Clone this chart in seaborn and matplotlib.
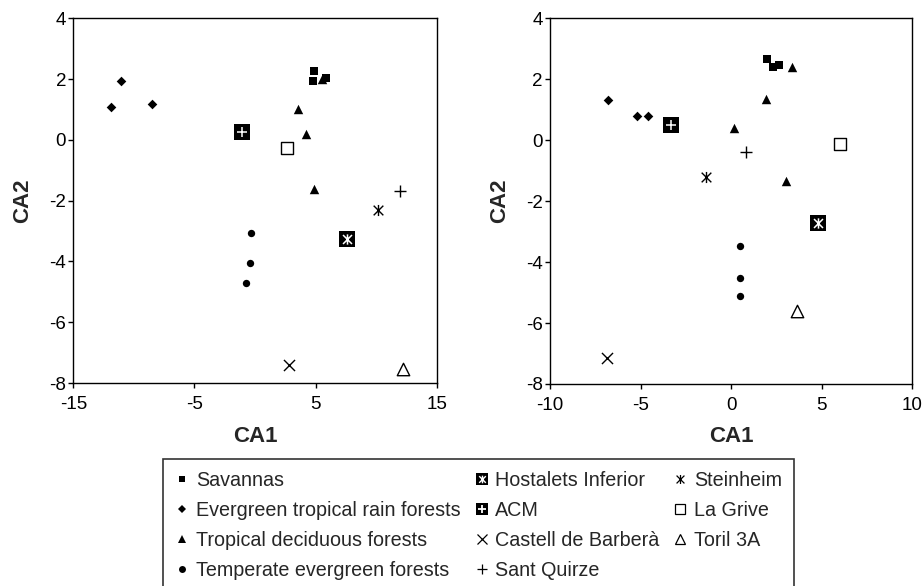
import matplotlib
matplotlib.use("Agg")
import matplotlib.pyplot as plt
import seaborn as sns
import pandas as pd
from matplotlib.path import Path
from matplotlib.lines import Line2D

# ---------------- data ----------------
groups = ["Savannas", "Evergreen tropical rain forests",
          "Tropical deciduous forests", "Temperate evergreen forests"]

# left panel
savannas_a_x = [4.90, 4.79, 5.87]
savannas_a_y = [2.26, 1.94, 2.02]
rainforest_a_x = [-11.9, -11.06, -8.5]
rainforest_a_y = [1.09, 1.93, 1.17]
deciduous_a_x = [3.52, 4.19, 4.85, 5.55]
deciduous_a_y = [1.01, 0.19, -1.62, 2.0]
temperate_a_x = [-0.30, -0.41, -0.71]
temperate_a_y = [-3.07, -4.06, -4.71]

# right panel
savannas_b_x = [1.96, 2.29, 2.66]
savannas_b_y = [2.65, 2.40, 2.48]
rainforest_b_x = [-6.8, -5.22, -4.57]
rainforest_b_y = [1.33, 0.81, 0.81]
deciduous_b_x = [3.34, 1.92, 0.16, 3.03]
deciduous_b_y = [2.39, 1.34, 0.39, -1.34]
temperate_b_x = [0.51, 0.51, 0.51]
temperate_b_y = [-3.47, -4.51, -5.11]

site_names = ["Hostalets Inferior", "ACM", "Castell de Barberà", "Sant Quirze",
              "Steinheim", "La Grive", "Toril 3A"]
sites_a_x = [7.57, -1.07, 2.78, 11.95, 10.13, 2.67, 12.25]
sites_a_y = [-3.25, 0.26, -7.40, -1.68, -2.31, -0.27, -7.53]
sites_b_x = [4.81, -3.30, -6.85, 0.80, -1.37, 6.01, 3.65]
sites_b_y = [-2.71, 0.49, -7.14, -0.40, -1.20, -0.12, -5.59]

xticks_a = [-15, -5, 5, 15]
xticks_b = [-10, -5, 0, 5, 10]
yticks = [-8, -6, -4, -2, 0, 2, 4]

# ---------------- styling ----------------
sns.set_style("ticks")
plt.rcParams["font.family"] = ["Liberation Sans", "DejaVu Sans"]
plt.rcParams["axes.unicode_minus"] = False

ast = Path([(-1, -1), (1, 1), (-1, 1), (1, -1), (0, -1.15), (0, 1.15)],
           [Path.MOVETO, Path.LINETO] * 3)

group_style = {
    "Savannas": dict(marker="s", s=28),
    "Evergreen tropical rain forests": dict(marker="D", s=24),
    "Tropical deciduous forests": dict(marker="^", s=46),
    "Temperate evergreen forests": dict(marker="o", s=28),
}

def site_layers(name):
    if name == "Hostalets Inferior":
        return [dict(marker="s", s=120, color="black", edgecolor="black", linewidth=0),
                dict(marker=ast, s=55, color="white", edgecolor="white", linewidth=1.1)]
    if name == "ACM":
        return [dict(marker="s", s=120, color="black", edgecolor="black", linewidth=0),
                dict(marker="+", s=60, color="white", linewidth=1.1)]
    if name == "Castell de Barberà":
        return [dict(marker="x", s=64, color="black", linewidth=1.0)]
    if name == "Sant Quirze":
        return [dict(marker="+", s=80, color="black", linewidth=1.0)]
    if name == "Steinheim":
        return [dict(marker=ast, s=64, color="black", edgecolor="black", linewidth=1.0)]
    if name == "La Grive":
        return [dict(marker="s", s=70, color="white", edgecolor="black", linewidth=1.0)]
    if name == "Toril 3A":
        return [dict(marker="^", s=80, color="white", edgecolor="black", linewidth=1.0)]

W, H = 923, 586
fig = plt.figure(figsize=(W / 100, H / 100), dpi=100)
ax_a = fig.add_axes([73.3 / W, 1 - 383 / H, 363.4 / W, 364.7 / H])
ax_b = fig.add_axes([550 / W, 1 - 384 / H, 362.3 / W, 365.7 / H])

panels = [
    (ax_a, [(savannas_a_x, savannas_a_y), (rainforest_a_x, rainforest_a_y),
            (deciduous_a_x, deciduous_a_y), (temperate_a_x, temperate_a_y)],
     sites_a_x, sites_a_y, (-15, 15), xticks_a),
    (ax_b, [(savannas_b_x, savannas_b_y), (rainforest_b_x, rainforest_b_y),
            (deciduous_b_x, deciduous_b_y), (temperate_b_x, temperate_b_y)],
     sites_b_x, sites_b_y, (-10, 10), xticks_b),
]

for ax, gdata, sx, sy, xlim, xt in panels:
    for g, (gx, gy) in zip(groups, gdata):
        df = pd.DataFrame({"CA1": gx, "CA2": gy})
        st = group_style[g]
        sns.scatterplot(data=df, x="CA1", y="CA2", ax=ax, marker=st["marker"],
                        s=st["s"], color="black", edgecolor="black",
                        linewidth=0, legend=False, zorder=3)
    for name, x, y in zip(site_names, sx, sy):
        df = pd.DataFrame({"CA1": [x], "CA2": [y]})
        for i, layer in enumerate(site_layers(name)):
            sns.scatterplot(data=df, x="CA1", y="CA2", ax=ax, legend=False,
                            zorder=4 + i, **layer)
    ax.set_xlim(*xlim)
    ax.set_ylim(-8, 4)
    ax.set_xticks(xt)
    ax.set_yticks(yticks)
    ax.set_xticklabels([str(v) for v in xt])
    ax.set_yticklabels([str(v) for v in yticks])
    ax.tick_params(direction="out", length=3.6, width=1, labelsize=13.5,
                   colors="black")
    ax.tick_params(axis="x", pad=5.5)
    ax.tick_params(axis="y", pad=1.5)
    for sp in ax.spines.values():
        sp.set_visible(True)
        sp.set_color("black")
        sp.set_linewidth(1)
    ax.set_xlabel("CA1", fontsize=16, fontweight="bold")
    ax.set_ylabel("CA2", fontsize=16, fontweight="bold")
    ax.xaxis.label.set_va("center")
    ax.yaxis.label.set_va("center")

ax_a.xaxis.set_label_coords(0.5, (383 - 436) / 364.7)
ax_a.yaxis.set_label_coords((23 - 73.3) / 363.4, 0.5)
ax_b.xaxis.set_label_coords(0.5, (384 - 436) / 365.7)
ax_b.yaxis.set_label_coords((499.5 - 550) / 362.3, 0.5)

# ---------------- legend ----------------
def lh(**kw):
    base = dict(linestyle="none", color="black")
    base.update(kw)
    return Line2D([], [], **base)

handles = [
    lh(marker="s", markersize=4.8, markeredgewidth=0),
    lh(marker="D", markersize=4.2, markeredgewidth=0),
    lh(marker="^", markersize=5.5, markeredgewidth=0),
    lh(marker="o", markersize=5, markeredgewidth=0),
    (lh(marker="s", markersize=8, markeredgewidth=0),
     lh(marker=ast, markersize=5.5, color="white", markeredgecolor="white",
        markeredgewidth=1.0)),
    (lh(marker="s", markersize=8, markeredgewidth=0),
     lh(marker="+", markersize=6, color="white", markeredgewidth=1.3)),
    lh(marker="x", markersize=6.5, markeredgewidth=0.9),
    lh(marker="+", markersize=7, markeredgewidth=0.9),
    lh(marker=ast, markersize=6.5, markeredgewidth=0.9),
    lh(marker="s", markersize=6.5, markerfacecolor="white", markeredgewidth=0.9),
    lh(marker="^", markersize=7, markerfacecolor="white", markeredgewidth=0.9),
]
labels = groups + site_names

leg = fig.legend(handles, labels, ncol=3, loc="upper left",
                 bbox_to_anchor=(162.7 / W, 1 - 459.3 / H),
                 frameon=True, fancybox=False, edgecolor="black",
                 fontsize=14.2, handlelength=0.8, handletextpad=0.3,
                 columnspacing=0.65, labelspacing=0.56, borderpad=0.6,
                 borderaxespad=0)
leg.get_frame().set_linewidth(1.2)

fig.savefig("out.png", dpi=100)
